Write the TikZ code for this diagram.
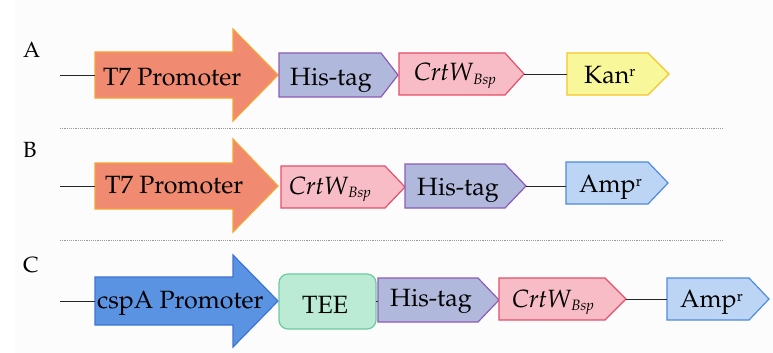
\documentclass[tikz,border=0pt]{standalone}
\usepackage[T1]{fontenc}
\usepackage{mathpazo}
\definecolor{promfill}{HTML}{F08A70}
\definecolor{promline}{HTML}{F7A530}
\definecolor{hisfill}{HTML}{B0B8DC}
\definecolor{hisline}{HTML}{8E5BB8}
\definecolor{crtfill}{HTML}{F7BCC5}
\definecolor{crtline}{HTML}{E4506A}
\definecolor{kanfill}{HTML}{F8F79A}
\definecolor{kanline}{HTML}{F5C52A}
\definecolor{ampfill}{HTML}{BDD5F5}
\definecolor{ampline}{HTML}{4D8BE0}
\definecolor{cspfill}{HTML}{5B93E3}
\definecolor{cspline}{HTML}{3C74D6}
\definecolor{teefill}{HTML}{BBEBD5}
\definecolor{teeline}{HTML}{6EC9A2}
\definecolor{sepgray}{HTML}{9A9A9A}
\definecolor{bggray}{HTML}{FCFCFC}
\tikzset{
  gene/.style={line width=1.2pt, line join=miter},
  prom/.style={gene, fill=promfill, draw=promline},
  csp/.style={gene, fill=cspfill, draw=cspline},
  his/.style={gene, fill=hisfill, draw=hisline},
  crt/.style={gene, fill=crtfill, draw=crtline},
  kan/.style={gene, fill=kanfill, draw=kanline},
  amp/.style={gene, fill=ampfill, draw=ampline},
  tee/.style={gene, fill=teefill, draw=teeline, rounded corners=9pt},
  lbl/.style={anchor=base west, inner sep=0pt, font=\fontsize{25}{30}\selectfont},
  rowlbl/.style={anchor=base west, inner sep=0pt, font=\fontsize{22}{26}\selectfont},
  conn/.style={line width=1pt, black!85},
  sepline/.style={sepgray, line width=0.7pt, dash pattern=on 1.2pt off 1pt},
}
\newcommand{\crtw}{\textit{CrtW}\raisebox{-3.5pt}{\fontsize{15}{15}\selectfont\itshape Bsp}}
\newcommand{\resr}{\raisebox{6pt}{\fontsize{15}{15}\selectfont r}}
\begin{document}
\begin{tikzpicture}[x=1pt,y=-1pt]
\useasboundingbox (0,0) rectangle (773,353);
\fill[white] (0,0) rectangle (773,353);
\fill[bggray] (15,0) rectangle (773,353);

% ---------- Row A ----------
\node[rowlbl] (labA) at (23,57) {A};
\coordinate (sA) at (60,75);
\coordinate (pA) at (95,75);
\draw[prom] (95,52) -- (233,52) -- (233,29) -- (278,75) -- (233,121) -- (233,98) -- (95,98) -- cycle;
\draw[his] (279,53) -- (381,53) -- (398,75) -- (381,97) -- (279,97) -- cycle;
\draw[crt] (399,53) -- (505,53) -- (524,74) -- (505,95) -- (399,95) -- cycle;
\coordinate (cA) at (524,74);
\coordinate (kA) at (567,74);
\draw[kan] (567,53) -- (648,53) -- (669,74) -- (648,95) -- (567,95) -- cycle;
\draw[conn] (sA) -- (pA);
\draw[conn] (cA) -- (kA);
\node[lbl] (tA1) at (103,85) {T7 Promoter};
\node[lbl] (tA2) at (290,85) {His-tag};
\node[lbl] (tA3) at (414,81) {\crtw};
\node[lbl] (tA4) at (584,83) {Kan\resr};

\coordinate (d1a) at (60,128);
\coordinate (d1b) at (723,128);
\draw[sepline] (d1a) -- (d1b);

% ---------- Row B ----------
\node[rowlbl] (labB) at (23,157) {B};
\coordinate (sB) at (60,186);
\coordinate (pB) at (95,186);
\draw[prom] (95,163) -- (233,163) -- (233,139) -- (278,186) -- (233,232) -- (233,209) -- (95,209) -- cycle;
\draw[crt] (281,166) -- (385,166) -- (405,187) -- (385,208) -- (281,208) -- cycle;
\draw[his] (405,164) -- (505,164) -- (526,186) -- (505,208) -- (405,208) -- cycle;
\coordinate (hB) at (526,186);
\coordinate (aB) at (566,186);
\draw[amp] (566,162) -- (648,162) -- (668,183) -- (648,204) -- (566,204) -- cycle;
\draw[conn] (sB) -- (pB);
\draw[conn] (hB) -- (aB);
\node[lbl] (tB1) at (105,193) {T7 Promoter};
\node[lbl] (tB2) at (289,194) {\crtw};
\node[lbl] (tB3) at (417,195) {His-tag};
\node[lbl] (tB4) at (579,192) {Amp\resr};

\coordinate (d2a) at (60,240);
\coordinate (d2b) at (723,240);
\draw[sepline] (d2a) -- (d2b);

% ---------- Row C ----------
\node[rowlbl] (labC) at (23,272) {C};
\coordinate (sC) at (60,301);
\coordinate (pC) at (95,301);
\draw[csp] (95,277) -- (233,277) -- (233,255) -- (278,301) -- (233,347) -- (233,325) -- (95,325) -- cycle;
\draw[tee] (279,274) rectangle (376,329);
\coordinate (eC) at (376,301);
\coordinate (hC) at (378,301);
\draw[his] (378,278) -- (478,278) -- (499,300) -- (478,322) -- (378,322) -- cycle;
\draw[crt] (499,278) -- (605,278) -- (626,299) -- (605,320) -- (499,320) -- cycle;
\coordinate (cC) at (626,299);
\coordinate (aC) at (667,299);
\draw[amp] (667,278) -- (749,278) -- (769,299) -- (749,320) -- (667,320) -- cycle;
\draw[conn] (sC) -- (pC);
\draw[conn] (eC) -- (hC);
\draw[conn] (cC) -- (aC);
\node[lbl] (tC1) at (97,308) {cspA Promoter};
\node[lbl] (tC2) at (302,313) {TEE};
\node[lbl] (tC3) at (390,306) {His-tag};
\node[lbl] (tC4) at (512,307) {\crtw};
\node[lbl] (tC5) at (680,307) {Amp\resr};
\end{tikzpicture}
\end{document}
